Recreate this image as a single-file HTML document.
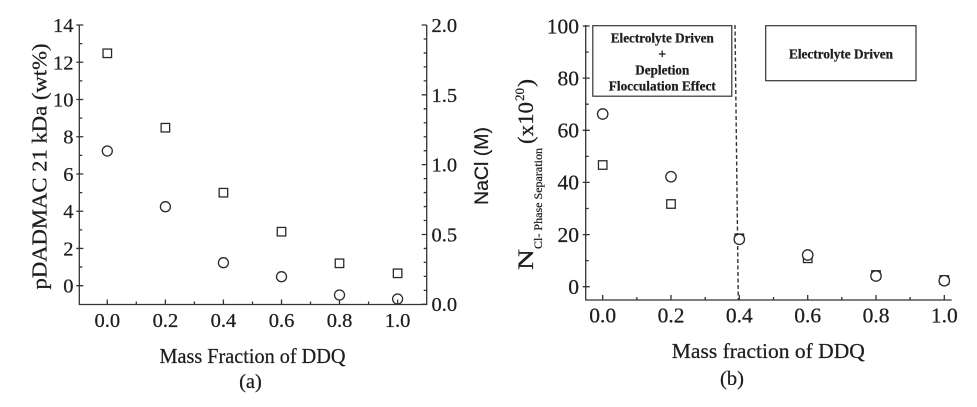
<!DOCTYPE html>
<html>
<head>
<meta charset="utf-8">
<style>
html,body{margin:0;padding:0;background:#fff;}
svg{display:block;}
text{font-family:"Liberation Serif",serif;fill:#1e1e1e;stroke:#1e1e1e;stroke-width:0.25px;}
</style>
</head>
<body>
<svg width="977" height="407" viewBox="0 0 977 407" xmlns="http://www.w3.org/2000/svg">
<rect x="0" y="0" width="977" height="407" fill="#fff"/>

<!-- ================= LEFT CHART (a) ================= -->
<g stroke="#333" stroke-width="1.3" fill="none">
  <path d="M79.3 25V304.5H426.7V25"/>
  <path d="M76.3 25.02h7 M76.3 62.26h7 M76.3 99.5h7 M76.3 136.74h7 M76.3 173.98h7 M76.3 211.22h7 M76.3 248.46h7 M76.3 285.7h7"/>
  <path d="M79.3 43.64h3 M79.3 80.88h3 M79.3 118.12h3 M79.3 155.36h3 M79.3 192.6h3 M79.3 229.84h3 M79.3 267.08h3"/>
  <path d="M426.7 25h-5 M426.7 94.83h-5 M426.7 164.65h-5 M426.7 234.48h-5 M426.7 304.3h-5"/>
  <path d="M426.7 38.97h-3 M426.7 52.93h-3 M426.7 66.9h-3 M426.7 80.86h-3 M426.7 108.79h-3 M426.7 122.76h-3 M426.7 136.72h-3 M426.7 150.69h-3 M426.7 178.62h-3 M426.7 192.58h-3 M426.7 206.55h-3 M426.7 220.51h-3 M426.7 248.44h-3 M426.7 262.41h-3 M426.7 276.37h-3 M426.7 290.34h-3"/>
  <path d="M107.3 304.5v-5 M165.4 304.5v-5 M223.4 304.5v-5 M281.5 304.5v-5 M339.5 304.5v-5 M397.6 304.5v-5"/>
  <path d="M136.3 304.5v-3 M194.4 304.5v-3 M252.5 304.5v-3 M310.5 304.5v-3 M368.6 304.5v-3"/>
</g>

<g font-size="20.5" text-anchor="end">
  <text x="73.5" y="32">14</text>
  <text x="73.5" y="69.3">12</text>
  <text x="73.5" y="106.5">10</text>
  <text x="73.5" y="143.7">8</text>
  <text x="73.5" y="181">6</text>
  <text x="73.5" y="218.2">4</text>
  <text x="73.5" y="255.5">2</text>
  <text x="73.5" y="292.7">0</text>
</g>
<g font-size="20.5" text-anchor="start">
  <text x="431.5" y="32">2.0</text>
  <text x="431.5" y="101.8">1.5</text>
  <text x="431.5" y="171.6">1.0</text>
  <text x="431.5" y="241.4">0.5</text>
  <text x="431.5" y="311.2">0.0</text>
</g>
<g font-size="20.5" text-anchor="middle">
  <text x="107.3" y="327">0.0</text>
  <text x="165.4" y="327">0.2</text>
  <text x="223.4" y="327">0.4</text>
  <text x="281.5" y="327">0.6</text>
  <text x="339.5" y="327">0.8</text>
  <text x="397.6" y="327">1.0</text>
</g>

<text x="252.5" y="363" font-size="21" text-anchor="middle" textLength="186" lengthAdjust="spacingAndGlyphs">Mass Fraction of DDQ</text>
<text x="250.5" y="388" font-size="20.5" text-anchor="middle">(a)</text>
<text transform="translate(46.7,166.5) rotate(-90)" font-size="21.5" text-anchor="middle" textLength="246" lengthAdjust="spacingAndGlyphs">pDADMAC 21 kDa (wt%)</text>
<text transform="translate(488,166) rotate(-90)" font-size="19.5" text-anchor="middle" style="font-family:'Liberation Sans',sans-serif">NaCl (M)</text>

<g stroke="#2a2a2a" stroke-width="1.3" fill="none">
  <rect x="103.05" y="49.05" width="8.5" height="8.5"/>
  <rect x="161.15" y="123.45" width="8.5" height="8.5"/>
  <rect x="219.15" y="188.45" width="8.5" height="8.5"/>
  <rect x="277.25" y="227.45" width="8.5" height="8.5"/>
  <rect x="335.25" y="259.05" width="8.5" height="8.5"/>
  <rect x="393.35" y="269.05" width="8.5" height="8.5"/>
  <circle cx="107.3" cy="151" r="5"/>
  <circle cx="165.4" cy="206.7" r="5"/>
  <circle cx="223.4" cy="262.7" r="5"/>
  <circle cx="281.5" cy="276.7" r="5"/>
  <circle cx="339.5" cy="295" r="5"/>
  <circle cx="397.6" cy="299" r="5"/>
</g>

<!-- ================= RIGHT CHART (b) ================= -->
<g stroke="#333" stroke-width="1.3" fill="none">
  <path d="M585.7 25V300H951.7"/>
  <path d="M582.7 26h7 M582.7 78.1h7 M582.7 130.3h7 M582.7 182.4h7 M582.7 234.6h7 M582.7 286.7h7"/>
  <path d="M585.7 52.1h3 M585.7 104.2h3 M585.7 156.4h3 M585.7 208.5h3 M585.7 260.6h3"/>
  <path d="M602.7 300v-5 M671 300v-5 M739.3 300v-5 M807.7 300v-5 M876 300v-5 M944.3 300v-5"/>
  <path d="M636.9 300v-3 M705.2 300v-3 M773.5 300v-3 M841.8 300v-3 M910.1 300v-3"/>
</g>

<g font-size="21.5" text-anchor="end">
  <text x="579" y="33.3">100</text>
  <text x="579" y="85.4">80</text>
  <text x="579" y="137.6">60</text>
  <text x="579" y="189.7">40</text>
  <text x="579" y="241.9">20</text>
  <text x="579" y="294">0</text>
</g>
<g font-size="21.5" text-anchor="middle">
  <text x="602.7" y="322.5">0.0</text>
  <text x="671" y="322.5">0.2</text>
  <text x="739.3" y="322.5">0.4</text>
  <text x="807.7" y="322.5">0.6</text>
  <text x="876" y="322.5">0.8</text>
  <text x="944.3" y="322.5">1.0</text>
</g>

<text x="768.3" y="358" font-size="21.5" text-anchor="middle" textLength="193" lengthAdjust="spacingAndGlyphs">Mass fraction of DDQ</text>
<text x="732" y="385" font-size="20.5" text-anchor="middle">(b)</text>

<g transform="rotate(-90)">
  <text x="-270" y="533" font-size="22.5" textLength="21" lengthAdjust="spacingAndGlyphs">N</text>
  <text x="-249" y="542" font-size="12" textLength="101" lengthAdjust="spacingAndGlyphs">Cl- Phase Separation</text>
  <text x="-144" y="533" font-size="22.5" textLength="42" lengthAdjust="spacingAndGlyphs">(x10</text>
  <text x="-101" y="524" font-size="13" textLength="13" lengthAdjust="spacingAndGlyphs">20</text>
  <text x="-87" y="533" font-size="22.5" textLength="8" lengthAdjust="spacingAndGlyphs">)</text>
</g>

<line x1="735" y1="25" x2="738.3" y2="300" stroke="#333" stroke-width="1.4" stroke-dasharray="4 2.5"/>

<rect x="592.8" y="25.7" width="139" height="70.5" fill="#fff" stroke="#333" stroke-width="1.2"/>
<rect x="765.7" y="25.7" width="150.3" height="55" fill="#fff" stroke="#333" stroke-width="1.2"/>
<g font-size="14" font-weight="bold" text-anchor="middle">
  <text x="662.3" y="42.5" textLength="103" lengthAdjust="spacingAndGlyphs">Electrolyte Driven</text>
  <text x="662.3" y="58.5">+</text>
  <text x="662.3" y="74.5" textLength="54" lengthAdjust="spacingAndGlyphs">Depletion</text>
  <text x="662.3" y="90.5" textLength="107" lengthAdjust="spacingAndGlyphs">Flocculation Effect</text>
  <text x="841" y="58.5" textLength="104" lengthAdjust="spacingAndGlyphs">Electrolyte Driven</text>
</g>

<g stroke="#2a2a2a" stroke-width="1.3">
  <rect x="598.45" y="160.75" width="8.5" height="8.5" fill="none"/>
  <rect x="666.75" y="199.75" width="8.5" height="8.5" fill="none"/>
  <rect x="735.05" y="234.05" width="8.5" height="8.5" fill="none"/>
  <rect x="803.45" y="254.05" width="8.5" height="8.5" fill="none"/>
  <rect x="871.75" y="270.75" width="8.5" height="8.5" fill="none"/>
  <rect x="940.05" y="275.75" width="8.5" height="8.5" fill="none"/>
  <circle cx="602.7" cy="114" r="5.2" fill="#fff"/>
  <circle cx="671" cy="176.7" r="5.2" fill="#fff"/>
  <circle cx="739.3" cy="239.3" r="5.2" fill="#fff"/>
  <circle cx="807.7" cy="255" r="5.2" fill="#fff"/>
  <circle cx="876" cy="276" r="5.2" fill="#fff"/>
  <circle cx="944.3" cy="280.7" r="5.2" fill="#fff"/>
</g>
</svg>
</body>
</html>
